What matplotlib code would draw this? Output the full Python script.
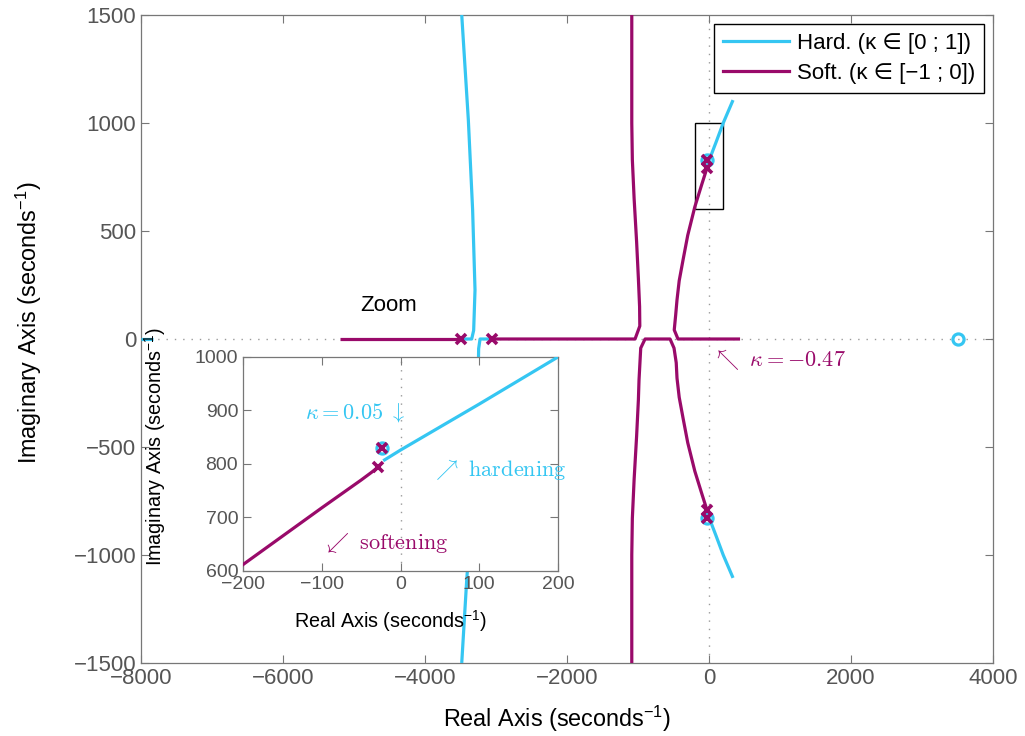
import matplotlib.pyplot as plt
from matplotlib.patches import Rectangle
from matplotlib.lines import Line2D

plt.rcParams['font.family'] = ['Liberation Sans', 'DejaVu Sans']
plt.rcParams['mathtext.fontset'] = 'custom'
plt.rcParams['mathtext.rm'] = 'Liberation Sans'
plt.rcParams['mathtext.it'] = 'Liberation Sans:italic'

hard_col = '#35C6F2'
soft_col = '#990A6A'
grid_col = '#9a9a9a'

# hardening branches (kappa in [0 ; 1])
hard_far_x = [-8000, -7830]
hard_far_y = [0, 0]
hard_up_x = [-3497, -3343, -3315, -3296, -3330, -3390, -3483]
hard_up_y = [0, 0, 40, 227, 600, 1014, 1500]
hard_dn_x = [-3061, -3225, -3245, -3255, -3300, -3413, -3483]
hard_dn_y = [0, 0, -45, -250, -600, -1116, -1500]
hard_top_x = [-22, 0, 100, 200, 338]
hard_top_y = [806, 826, 912, 1000, 1106]
hard_bot_x = [-22, 0, 100, 200, 338]
hard_bot_y = [-806, -826, -912, -1000, -1106]
hard_zero_x = [3507, -23, -23]
hard_zero_y = [0, 829, -829]

# softening branches (kappa in [-1 ; 0])
soft_left_x = [-5197, -3497]
soft_left_y = [0, 0]
soft_ul_x = [-3061, -1042, -975, -978, -995, -1020, -1055, -1080, -1088, -1088]
soft_ul_y = [0, 0, 60, 150, 280, 450, 650, 830, 1000, 1500]
soft_ll_x = [-1088, -1088, -1080, -1055, -1020, -995, -986, -962, -901, -549,
             -493, -462, -451, -420, -366, -300, -200, -150, -100, -50, -28]
soft_ll_y = [-1500, -1000, -830, -650, -450, -282, -190, -42, 0, 0,
             -42, -110, -181, -270, -366, -480, -612, -665, -718, -770, -794]
soft_ur_x = [437, -437, -490, -470, -451, -420, -366, -300, -200, -150, -100, -50, -28]
soft_ur_y = [0, 0, 42, 110, 181, 270, 366, 480, 612, 665, 718, 770, 794]
soft_pole_x = [-3497, -3061, -28, -23, -28, -23]
soft_pole_y = [0, 0, 794, 829, -794, -829]

main_xticks = [-8000, -6000, -4000, -2000, 0, 2000, 4000]
main_yticks = [-1500, -1000, -500, 0, 500, 1000, 1500]
zoom_xticks = [-200, -100, 0, 100, 200]
zoom_yticks = [600, 700, 800, 900, 1000]


def draw_locus(ax):
    lw = 2.3
    for xs, ys in [(hard_far_x, hard_far_y), (hard_up_x, hard_up_y), (hard_dn_x, hard_dn_y),
                   (hard_top_x, hard_top_y), (hard_bot_x, hard_bot_y)]:
        ax.plot(xs, ys, color=hard_col, lw=lw, solid_capstyle='butt', zorder=3)
    for xs, ys in [(soft_left_x, soft_left_y), (soft_ul_x, soft_ul_y),
                   (soft_ll_x, soft_ll_y), (soft_ur_x, soft_ur_y)]:
        ax.plot(xs, ys, color=soft_col, lw=lw, solid_capstyle='butt', zorder=3)
    ax.plot(hard_zero_x, hard_zero_y, 'o', color=hard_col, mfc='none', ms=8, mew=2.3,
            ls='none', zorder=4)
    ax.plot(soft_pole_x, soft_pole_y, 'x', color=soft_col, ms=7.5, mew=2.6, ls='none', zorder=5)


def style_axes(ax, size):
    ax.tick_params(direction='in', top=True, right=True, length=6, width=0.8,
                   color='#777777', labelcolor='#555555', labelsize=size)
    for s in ax.spines.values():
        s.set_color('#777777')
        s.set_linewidth(0.9)


fig = plt.figure(figsize=(10.25, 7.36), dpi=100)
ax = fig.add_axes([0.1376, 0.0992, 0.8312, 0.8804])

ax.axhline(0, color=grid_col, ls=(0, (1, 5)), lw=1, zorder=1)
ax.axvline(0, color=grid_col, ls=(0, (1, 5)), lw=1, zorder=1)
draw_locus(ax)
ax.set_xlim(-8000, 4000)
ax.set_ylim(-1500, 1500)
ax.set_xticks(main_xticks)
ax.set_yticks(main_yticks)
style_axes(ax, 16)
ax.set_xlabel('Real Axis (seconds$^{-1}$)', fontsize=16.8, labelpad=11)
ax.set_ylabel('Imaginary Axis (seconds$^{-1}$)', fontsize=16.8, labelpad=21)
ax.xaxis.label.set_x(0.488)
ax.yaxis.label.set_y(0.525)

ax.add_patch(Rectangle((-200, 600), 400, 400, fill=False, ec='black', lw=1, zorder=2))
ax.text(-4915, 153, 'Zoom', fontsize=16, va='center')
ax.text(56, -97, r'$\nwarrow\ \kappa = -0.47$', color=soft_col, fontsize=16,
        math_fontfamily='cm', va='center')

handles = [Line2D([], [], color=hard_col, lw=2.3), Line2D([], [], color=soft_col, lw=2.3)]
leg = ax.legend(handles, ['Hard. (\u03ba \u2208 [0 ; 1])', 'Soft. (\u03ba \u2208 [\u22121 ; 0])'],
                loc='upper right', fontsize=16, handlelength=3.0, handletextpad=0.35,
                borderaxespad=0.4, fancybox=False, framealpha=1, edgecolor='black',
                labelspacing=0.4)
leg.get_frame().set_linewidth(1)

# zoomed inset
ins = fig.add_axes([0.2371, 0.2242, 0.3073, 0.2908])
ins.axvline(0, color=grid_col, ls=(0, (1, 5)), lw=1, zorder=1)
draw_locus(ins)
ins.set_xlim(-200, 200)
ins.set_ylim(600, 1000)
ins.set_xticks(zoom_xticks)
ins.set_yticks(zoom_yticks)
style_axes(ins, 14)
ins.set_xlabel('Real Axis (seconds$^{-1}$)', fontsize=14.2, labelpad=11)
ins.set_ylabel('Imaginary Axis (seconds$^{-1}$)', fontsize=14.2, labelpad=19)
ins.xaxis.label.set_x(0.467)
ins.yaxis.label.set_y(0.58)
ins.text(-121, 897, r'$\kappa = 0.05\ \downarrow$', color=hard_col, fontsize=16,
         math_fontfamily='cm', va='center')
ins.text(40, 789, r'$\nearrow\ \mathrm{hardening}$', color=hard_col, fontsize=16,
         math_fontfamily='cm', va='center')
ins.text(-99, 652, r'$\swarrow\ \mathrm{softening}$', color=soft_col, fontsize=16,
         math_fontfamily='cm', va='center')

fig.savefig('out.png', dpi=100)
